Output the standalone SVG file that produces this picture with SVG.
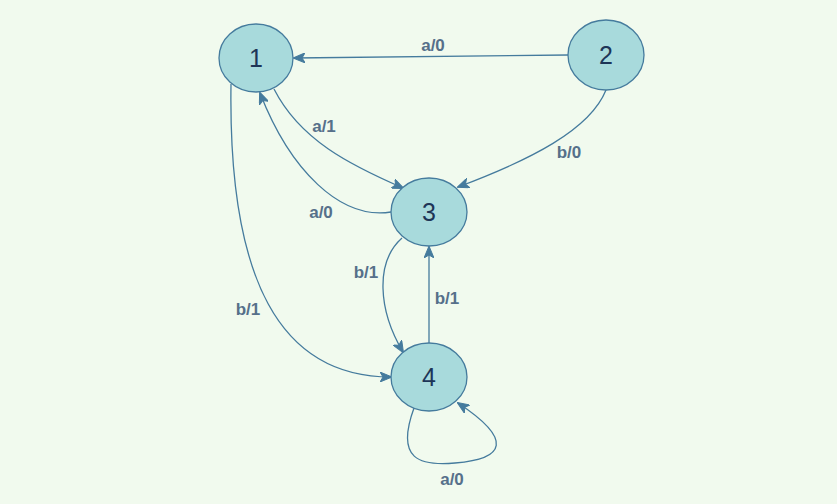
<svg xmlns="http://www.w3.org/2000/svg" width="837" height="504" viewBox="0 0 837 504">
  <style>
    .state ellipse { fill: #a8dadc; stroke: #457b9d; stroke-width: 1.3; }
    .state text { font-family: "Liberation Sans", Arial, sans-serif; font-size: 25px; fill: #1d3557; text-anchor: middle; dominant-baseline: central; }
    .edge { fill: none; stroke: #457b9d; stroke-width: 1.3; marker-end: url(#arrow); }
    .lbl { font-family: "Liberation Sans", Arial, sans-serif; font-size: 17px; font-weight: bold; fill: #56708a; text-anchor: middle; dominant-baseline: central; }
  </style>
  <defs>
    <marker id="arrow" viewBox="0 0 12 10" refX="11" refY="5" markerWidth="12" markerHeight="10" markerUnits="userSpaceOnUse" orient="auto">
      <path d="M0,0 L12,5 L0,10 L3,5 Z" fill="#457b9d" stroke="#457b9d" stroke-width="1"/>
    </marker>
  </defs>
  <rect width="837" height="504" fill="#f1faee"/>

  <g id="connectors">
    <path class="edge" d="M568,55 L294,58"/>
    <path class="edge" d="M606,90 C590,130 530,160 458,187"/>
    <path class="edge" d="M274,89 C300,140 350,165 403,188"/>
    <path class="edge" d="M391,212 C340,220 290,170 260,93"/>
    <path class="edge" d="M231,84 C228,280 280,377 391,377"/>
    <path class="edge" d="M402,238 C375,262 378,310 403,352"/>
    <path class="edge" d="M429,343 L429,247"/>
    <path class="edge" d="M414,408 C395,460 420,466 455,463 C505,459 514,440 458,403"/>
    <text class="lbl" x="433" y="45">a/0</text>
    <text class="lbl" x="569" y="152">b/0</text>
    <text class="lbl" x="324" y="126">a/1</text>
    <text class="lbl" x="321" y="212">a/0</text>
    <text class="lbl" x="248" y="309">b/1</text>
    <text class="lbl" x="366" y="272">b/1</text>
    <text class="lbl" x="447" y="298">b/1</text>
    <text class="lbl" x="452" y="479">a/0</text>
  </g>

  <g id="node1" class="state"><ellipse cx="256" cy="58" rx="37" ry="34"/><text x="256" y="58">1</text></g>
  <g id="node2" class="state"><ellipse cx="606" cy="55" rx="38" ry="35"/><text x="606" y="55">2</text></g>
  <g id="node3" class="state"><ellipse cx="429" cy="212" rx="38" ry="34"/><text x="429" y="212">3</text></g>
  <g id="node4" class="state"><ellipse cx="429" cy="377" rx="38" ry="34"/><text x="429" y="377">4</text></g>
</svg>
